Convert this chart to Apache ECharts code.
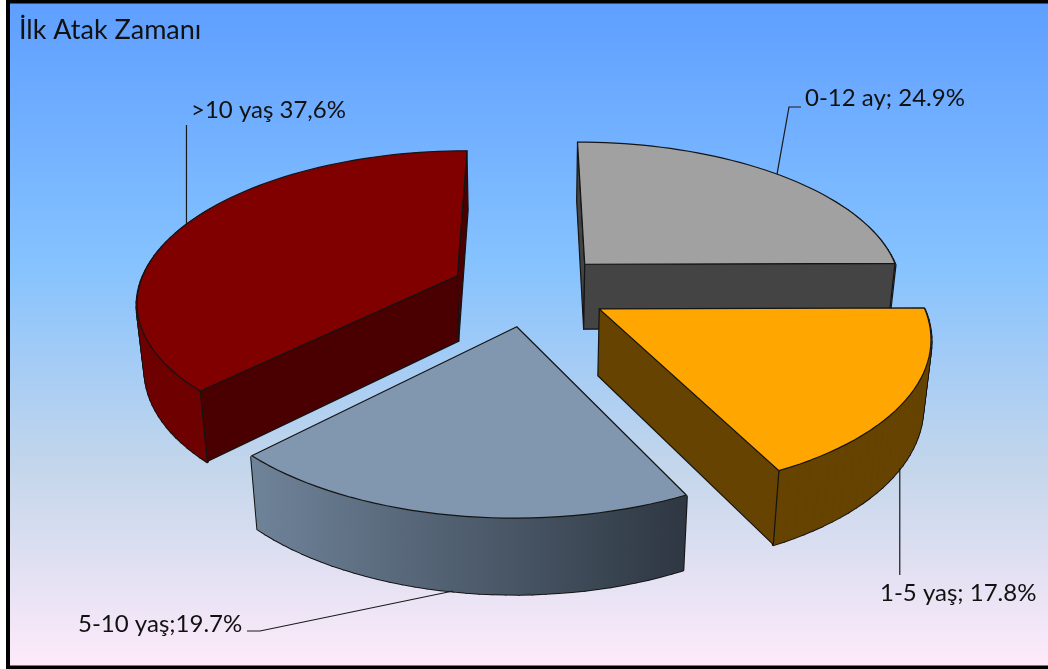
<!DOCTYPE html>
<html>
<head>
<meta charset="utf-8">
<title>İlk Atak Zamanı</title>
<style>
  html, body { margin: 0; padding: 0; background: #fff; }
  #chart { width: 1048px; height: 669px; }
</style>
<script src="https://cdn.jsdelivr.net/npm/echarts@6/dist/echarts.min.js"></script>
</head>
<body>
<div id="chart"></div>
<script>
// Slice data, clockwise from the top of the disc
const categories = ['0-12 ay', '1-5 yaş', '5-10 yaş', '>10 yaş'];
const shares = [24.9, 17.8, 19.7, 37.6];
const sliceLabels = ['0-12 ay; 24.9%', '1-5 yaş; 17.8%', '5-10 yaş;19.7%', '>10 yaş 37,6%'];
const chartTitle = 'İlk Atak Zamanı';

// Face colours per slice
const topColors = ['#A1A1A1', '#FFA600', '#8196AF', '#800000'];
const rimColors = ['#555555', '#664300', null, '#6E0000'];
const wallColors = ['#444444', '#664300', '#4A5666', '#4A0000'];
const FONT = 'Lato, "Open Sans", sans-serif';

// Perspective model of the disc plane (radius 1, u to the right, v towards the viewer)
const view = {
  cx: 530, cy: 289.4, rx: 319, ry: 148.5, persp: 0.156,
  explodeU: 0.25, explodeV: 0.245, depth: 66, depthPower: 0.65, nadir: 3300
};

function project(u, v) {
  const w = 1 - view.persp * v;
  return { x: view.cx + view.rx * u / w, y: view.cy + view.ry * v / w, w };
}
function lower(p) {
  const dy = view.depth / Math.pow(p.w, view.depthPower);
  return [view.cx + (p.x - view.cx) * (1 - dy / view.nadir), p.y + dy];
}
const deg = Math.PI / 180;
const total = shares.reduce((a, b) => a + b, 0);

// Label anchor points and the elbow of each leader line
const labelLayout = [
  { x: 805, y: 98, path: [[789, 107], [801, 107]], onBottom: false },
  { x: 880, y: 593, path: [[899, 575]], onBottom: true, keepX: true },
  { x: 78, y: 624, path: [[260, 631], [247, 631]], onBottom: true },
  { x: 191, y: 110, path: [[187, 125]], onBottom: false, keepX: true }
];

function renderSlice(params, api) {
  const i = params.dataIndex;
  const value = api.value(0);
  const before = shares.slice(0, i).reduce((a, b) => a + b, 0);
  const start = before / total * 360;
  const end = (before + value) / total * 360;
  const mid = (start + end) / 2;
  const ax = view.explodeU * Math.sin(mid * deg);
  const ay = -view.explodeV * Math.cos(mid * deg);
  const rimAt = (t) => project(ax + Math.sin(t * deg), ay - Math.cos(t * deg));

  const apex = project(ax, ay);
  const apexLow = lower(apex);
  const rimTop = [], rimLow = [], angles = [];
  const steps = Math.ceil((end - start) / 2);
  for (let k = 0; k <= steps; k++) {
    const t = start + (end - start) * k / steps;
    const p = rimAt(t);
    angles.push(t);
    rimTop.push([p.x, p.y]);
    rimLow.push(lower(p));
  }
  const m = rimAt(mid);
  const line = { stroke: '#141414', lineWidth: 1.2, lineJoin: 'round' };
  const children = [];

  // Outer curved wall: a dark pass leaves the outline of the strip, the fill pass closes it.
  // The far part of the rim sits behind the top face and is left out; the strip's upper
  // edge is pulled in so that its stroke stays under the top face.
  const rimFill = rimColors[i] || new echarts.graphic.LinearGradient(
    Math.min(rimTop[0][0], rimTop[steps][0]), 0,
    Math.max(rimTop[0][0], rimTop[steps][0]), 0,
    [{ offset: 0, color: '#6F8399' }, { offset: 1, color: '#2E3742' }],
    true
  );
  const inset = (p, d) => [p[0], p[1] + d];
  const quadAt = (k, d) => [inset(rimTop[k], d), inset(rimTop[k + 1], d), rimLow[k + 1], rimLow[k]];
  const visible = [];
  for (let k = 0; k < steps; k++) {
    if (Math.cos(angles[k] * deg) > 0.5 && Math.cos(angles[k + 1] * deg) > 0.5) continue;
    visible.push(k);
  }
  visible.forEach((k) => children.push({ type: 'polygon', shape: { points: quadAt(k, 1.6) },
    style: { fill: '#141414', stroke: '#141414', lineWidth: 3.2, lineJoin: 'round' } }));
  visible.forEach((k) => children.push({ type: 'polygon', shape: { points: quadAt(k, 0.6) },
    style: { fill: rimFill, stroke: rimFill, lineWidth: 1.2, lineJoin: 'round' } }));

  // Straight walls, only where they face the viewer
  [[rimTop[0], rimLow[0]], [rimTop[steps], rimLow[steps]]].forEach(([pt, pl]) => {
    const ex = pt[0] - apex.x, ey = pt[1] - apex.y;
    const toMid = ex * (m.y - apex.y) - ey * (m.x - apex.x);
    if (ex * toMid < 0) {
      children.push({ type: 'polygon', shape: { points: [[apex.x, apex.y], pt, pl, apexLow] },
        style: Object.assign({ fill: wallColors[i] }, line) });
    }
  });

  // Top face
  children.push({ type: 'polygon', shape: { points: [[apex.x, apex.y]].concat(rimTop) },
    style: Object.assign({ fill: topColors[i] }, line) });

  // Leader line from the middle of the rim to the label
  const layout = labelLayout[i];
  const anchor = layout.onBottom ? lower(m) : [m.x, m.y];
  const path = layout.path.map((q) => layout.keepX ? [anchor[0], q[1]] : q);
  children.push({ type: 'polyline', shape: { points: [anchor].concat(path) },
    style: { stroke: '#1a1a1a', lineWidth: 1.2, fill: null } });

  // Label
  children.push({ type: 'text', style: {
    x: layout.x, y: layout.y, text: sliceLabels[i], fill: '#111',
    font: '24px ' + FONT, textAlign: 'left', textVerticalAlign: 'middle'
  } });

  return { type: 'group', children };
}

const chart = echarts.init(document.getElementById('chart'), null, { renderer: 'canvas' });
chart.setOption({
  animation: false,
  title: {
    text: chartTitle, left: 14, top: 12,
    textStyle: { fontFamily: FONT, fontSize: 27, fontWeight: 'normal', color: '#111' }
  },
  graphic: [{
    type: 'rect', z: -10, silent: true,
    shape: { x: 8, y: 1.5, width: 1060, height: 666 },
    style: {
      fill: new echarts.graphic.LinearGradient(0, 0, 0, 1, [
        { offset: 0, color: '#5E9EFF' },
        { offset: 0.39, color: '#85C2FF' },
        { offset: 0.7, color: '#C4D6EB' },
        { offset: 1, color: '#FFEBFA' }
      ]),
      stroke: '#000', lineWidth: 4
    }
  }],
  series: [{
    type: 'custom',
    coordinateSystem: 'none',
    name: chartTitle,
    silent: true,
    renderItem: renderSlice,
    data: categories.map((name, i) => ({ name, value: [shares[i]] }))
  }]
});
</script>
</body>
</html>
